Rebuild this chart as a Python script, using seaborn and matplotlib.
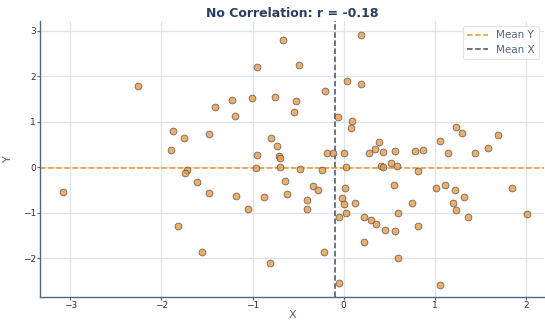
import numpy as np
import pandas as pd
import matplotlib
matplotlib.use("Agg")
import matplotlib.pyplot as plt
import seaborn as sns

x_vals = [-2.26, -1.87, -1.75, -1.90, -1.72, -1.74, -1.61, -3.08, -1.82, -1.56, -1.48, -1.48,
          -0.66, -0.95, -0.49, 0.04, -0.20, -1.41, -1.22, -1.01, -0.75, -0.52, -1.19, -0.54,
          -0.06, -0.80, -0.73, -0.95, -0.71, -0.70, -0.70, -0.96, -0.48, -0.24, -0.18, -0.12,
          0.00, 0.03, -1.18, -0.87, -0.64, -0.62, -0.34, -0.28, -0.40, -0.40, -1.05, 0.02,
          -0.02, 0.00, 0.03, -0.05, -0.21, -0.81, -0.05,
          0.19, 0.19, 0.09, 0.08, 0.39, 0.35, 0.28, 0.43, 0.56, 0.78, 0.87, 0.41, 0.43, 0.52,
          0.59, 0.82, 1.06, 1.24, 1.30, 1.15, 1.44, 1.59, 1.70, 0.13, 0.55, 0.60, 0.75, 0.22,
          0.30, 0.36, 0.46, 0.56, 0.82, 0.22, 0.60, 1.02, 1.11, 1.22, 1.32, 1.20, 1.23, 1.37,
          1.85, 2.01, 1.06]
y_vals = [1.78, 0.80, 0.64, 0.38, -0.07, -0.14, -0.33, -0.54, -1.29, -1.86, 0.73, -0.57,
          2.80, 2.20, 2.24, 1.89, 1.67, 1.33, 1.47, 1.51, 1.54, 1.45, 1.13, 1.20,
          1.09, 0.65, 0.47, 0.27, 0.24, 0.21, 0.01, -0.03, -0.05, -0.07, 0.32, 0.32,
          0.32, 0.00, -0.63, -0.65, -0.30, -0.60, -0.41, -0.50, -0.72, -0.92, -0.92, -0.45,
          -0.68, -0.82, -1.01, -1.09, -1.86, -2.11, -2.55,
          2.91, 1.83, 1.02, 0.85, 0.56, 0.39, 0.32, 0.33, 0.36, 0.36, 0.38, 0.03, 0.00, 0.10,
          0.03, -0.08, 0.57, 0.88, 0.75, 0.32, 0.30, 0.41, 0.70, -0.78, -0.39, -1.01, -0.78, -1.09,
          -1.17, -1.24, -1.39, -1.40, -1.29, -1.64, -1.99, -0.46, -0.40, -0.51, -0.65, -0.79, -0.95, -1.09,
          -0.45, -1.04, -2.58]
mean_x = -0.09
mean_y = -0.02
title_text = "No Correlation: r = -0.18"

df = pd.DataFrame({"X": x_vals, "Y": y_vals})

sns.set_theme(style="whitegrid")
plt.rcParams['font.family'] = ['DejaVu Sans']

fig = plt.figure(figsize=(5.45, 3.23), dpi=100)
ax = fig.add_axes([0.074, 0.081, 0.924, 0.854])

navy = "#2a3f5f"
slate = "#506784"

sns.scatterplot(data=df, x="X", y="Y", ax=ax, color="#e59a4c", alpha=0.8,
                s=24, edgecolor="#5a4a3a", linewidth=0.6, zorder=3)
ax.axhline(mean_y, color="#f0922b", linestyle="--", linewidth=1.1, label="Mean Y", zorder=2)
ax.axvline(mean_x, color="#3b4f6b", linestyle="--", linewidth=1.1, label="Mean X", zorder=2)

ax.set_xlim(-3.33, 2.2)
ax.set_ylim(-2.85, 3.21)
ax.set_xticks([-3, -2, -1, 0, 1, 2])
ax.set_yticks([-2, -1, 0, 1, 2, 3])
ax.grid(True, color="#dfe3ea", linewidth=0.9)
ax.set_facecolor("white")
for s in ["top", "right"]:
    ax.spines[s].set_visible(False)
for s in ["left", "bottom"]:
    ax.spines[s].set_visible(True)
    ax.spines[s].set_color(slate)
    ax.spines[s].set_linewidth(1.0)
ax.tick_params(axis="both", labelsize=6.5, colors="#333333", length=2.0, width=0.8,
               direction="out", bottom=True, left=True, pad=1.0)
ax.tick_params(axis="both", color=slate)

ax.set_xlabel("X", fontsize=8, color=slate, labelpad=0)
ax.set_ylabel("Y", fontsize=8, color=slate, labelpad=7)
ax.set_title(title_text, fontsize=9, fontweight="bold", color=navy, pad=3)

leg = ax.legend(loc="upper right", fontsize=7.5, frameon=True, borderpad=0.4,
                handlelength=2.0, labelspacing=0.4)
leg.get_frame().set_edgecolor("#dddddd")
leg.get_frame().set_linewidth(0.8)
for t in leg.get_texts():
    t.set_color(slate)

fig.savefig("out.png", dpi=100)
